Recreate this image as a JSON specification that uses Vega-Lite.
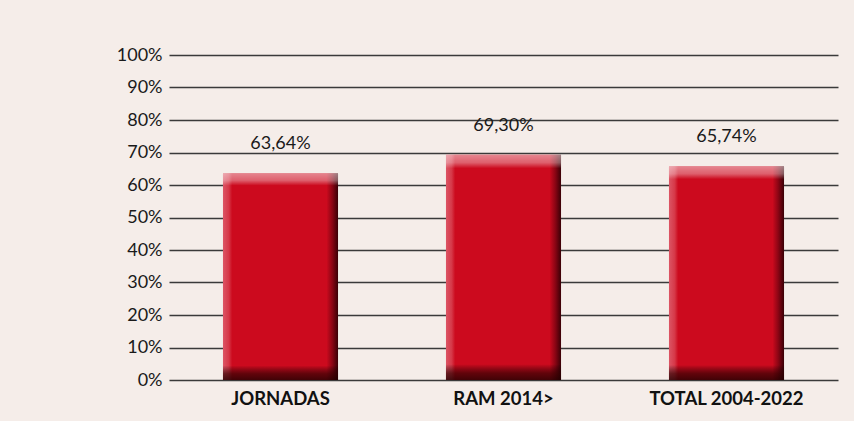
{
  "$schema": "https://vega.github.io/schema/vega-lite/v6.json",
  "width": 669,
  "height": 325,
  "autosize": {"type": "none"},
  "padding": {"left": 169, "top": 55, "right": 16, "bottom": 41},
  "background": "#f5ede9",
  "config": {
    "view": {"stroke": null},
    "font": "Lato",
    "locale": {"number": {"decimal": ",", "thousands": ".", "grouping": [3], "currency": ["", " €"]}}
  },
  "data": {
    "values": [
      {"categoria": "JORNADAS", "porcentaje": 0.6364},
      {"categoria": "RAM 2014>", "porcentaje": 0.693},
      {"categoria": "TOTAL 2004-2022", "porcentaje": 0.6574}
    ]
  },
  "encoding": {
    "x": {
      "field": "categoria",
      "type": "nominal",
      "sort": null,
      "scale": {"paddingInner": 0.484, "paddingOuter": 0.242},
      "axis": {
        "title": null,
        "labelAngle": 0,
        "domain": false,
        "ticks": false,
        "labelFont": "Lato",
        "labelFontSize": 18.5,
        "labelFontWeight": "bold",
        "labelColor": "#111111",
        "labelPadding": 9
      }
    },
    "y": {
      "field": "porcentaje",
      "type": "quantitative",
      "scale": {"domain": [0, 1]},
      "axis": {
        "title": null,
        "values": [0, 0.1, 0.2, 0.3, 0.4, 0.5, 0.6, 0.7, 0.8, 0.9, 1],
        "format": ".0%",
        "grid": true,
        "gridColor": "#3a3a3a",
        "gridWidth": 1.3,
        "gridOpacity": 1,
        "domain": false,
        "ticks": false,
        "labelFont": "Lato",
        "labelFontSize": 18,
        "labelColor": "#1a1a1a",
        "labelPadding": 7
      }
    }
  },
  "layer": [
    {
      "mark": {
        "type": "bar",
        "fill": {
          "gradient": "linear",
          "x1": 0, "y1": 0, "x2": 1, "y2": 0,
          "stops": [
            {"offset": 0, "color": "#dc5565"},
            {"offset": 0.05, "color": "#d63848"},
            {"offset": 0.08, "color": "#cc0a1e"},
            {"offset": 0.9, "color": "#cc0a1e"},
            {"offset": 0.95, "color": "#8a0514"},
            {"offset": 1, "color": "#3a0006"}
          ]
        }
      }
    },
    {
      "mark": {
        "type": "bar",
        "fill": {
          "gradient": "linear",
          "x1": 0, "y1": 0, "x2": 0, "y2": 1,
          "stops": [
            {"offset": 0, "color": "rgba(255,255,255,0.5)"},
            {"offset": 0.035, "color": "rgba(255,255,255,0.35)"},
            {"offset": 0.06, "color": "rgba(255,255,255,0)"},
            {"offset": 0.93, "color": "rgba(0,0,0,0)"},
            {"offset": 0.97, "color": "rgba(40,0,0,0.65)"},
            {"offset": 1, "color": "rgba(30,0,0,0.8)"}
          ]
        }
      }
    },
    {
      "mark": {
        "type": "text",
        "baseline": "middle",
        "dy": -29,
        "font": "Lato",
        "fontSize": 18,
        "color": "#1a1a1a"
      },
      "encoding": {
        "text": {"field": "porcentaje", "type": "quantitative", "format": ".2%"}
      }
    }
  ]
}
